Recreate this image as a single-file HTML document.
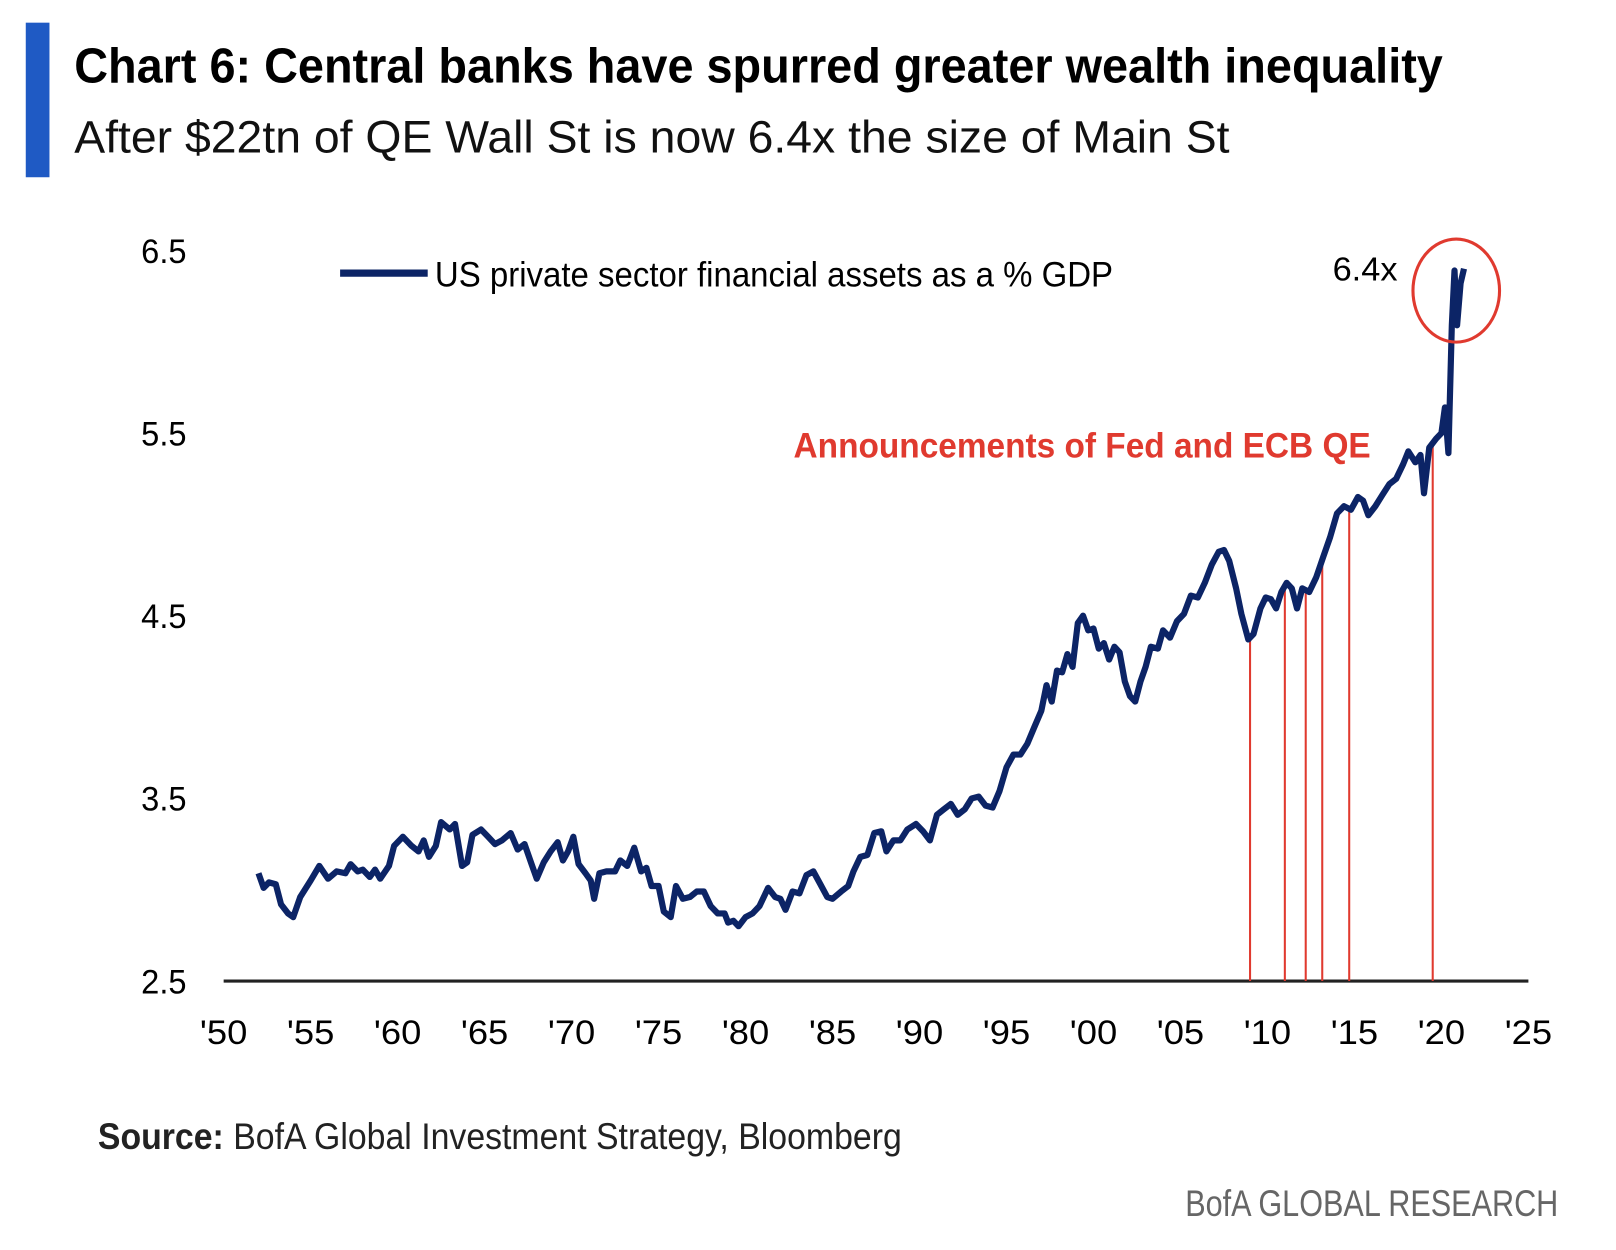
<!DOCTYPE html>
<html><head><meta charset="utf-8"><style>
html,body{margin:0;padding:0;background:#fff;}
svg{display:block;font-family:"Liberation Sans",sans-serif;}
</style></head><body>
<svg id="chart" width="1616" height="1250" viewBox="0 0 1568 1213" preserveAspectRatio="none">
<rect x="25" y="22" width="23" height="150" fill="#1f5ac4"/>
<text x="72" y="80" font-size="48" font-weight="bold" textLength="1328" lengthAdjust="spacingAndGlyphs">Chart 6: Central banks have spurred greater wealth inequality</text>
<text x="72" y="148" font-size="44" textLength="1121" lengthAdjust="spacingAndGlyphs" fill="#111">After $22tn of QE Wall St is now 6.4x the size of Main St</text>
<g id="axes"></g>
<g id="qe"></g>
<path id="line" fill="none" stroke="#0c2466" stroke-width="6" stroke-linejoin="round"/>
<line x1="330" y1="265" x2="415" y2="265" stroke="#0c2466" stroke-width="7"/>
<text x="422" y="278" font-size="34" textLength="658" lengthAdjust="spacingAndGlyphs">US private sector financial assets as a % GDP</text>
<text x="1293" y="272" font-size="32" textLength="63" lengthAdjust="spacingAndGlyphs">6.4x</text>
<ellipse cx="1413" cy="282" rx="42" ry="50" fill="none" stroke="#e03a2f" stroke-width="3"/>
<text x="770" y="444" font-size="34" font-weight="bold" fill="#e03a2f" textLength="560" lengthAdjust="spacingAndGlyphs">Announcements of Fed and ECB QE</text>
<text x="95" y="1115" font-size="36" textLength="780" lengthAdjust="spacingAndGlyphs" fill="#222"><tspan font-weight="bold">Source:</tspan> BofA Global Investment Strategy, Bloomberg</text>
<text x="1512" y="1180" font-size="36" text-anchor="end" fill="#666" textLength="362" lengthAdjust="spacingAndGlyphs">BofA GLOBAL RESEARCH</text>
</svg>
<script>
const years=[1952.0,1952.3,1952.6,1953.0,1953.3,1953.7,1954.0,1954.4,1955.0,1955.5,1956.0,1956.5,1957.0,1957.3,1957.7,1958.0,1958.4,1958.7,1959.0,1959.5,1959.8,1960.3,1960.8,1961.2,1961.5,1961.8,1962.2,1962.5,1963.0,1963.3,1963.7,1964.0,1964.3,1964.8,1965.2,1965.6,1966.0,1966.5,1966.9,1967.3,1967.7,1968.0,1968.4,1968.8,1969.2,1969.5,1969.8,1970.1,1970.4,1970.8,1971.1,1971.3,1971.6,1972.0,1972.5,1972.8,1973.2,1973.6,1974.0,1974.3,1974.6,1975.0,1975.3,1975.7,1976.0,1976.4,1976.8,1977.2,1977.6,1978.0,1978.4,1978.8,1979.0,1979.3,1979.6,1980.0,1980.4,1980.8,1981.3,1981.7,1982.0,1982.3,1982.7,1983.1,1983.5,1983.9,1984.3,1984.7,1985.0,1985.5,1985.9,1986.2,1986.6,1987.0,1987.4,1987.8,1988.1,1988.5,1988.9,1989.3,1989.8,1990.2,1990.6,1991.0,1991.4,1991.8,1992.2,1992.6,1993.0,1993.4,1993.8,1994.2,1994.6,1995.0,1995.4,1995.8,1996.2,1996.6,1997.0,1997.3,1997.6,1997.9,1998.2,1998.5,1998.8,1999.1,1999.4,1999.7,2000.0,2000.3,2000.6,2000.9,2001.2,2001.5,2001.8,2002.1,2002.4,2002.7,2003.0,2003.3,2003.7,2004.0,2004.4,2004.8,2005.2,2005.6,2006.0,2006.4,2006.8,2007.2,2007.5,2007.8,2008.2,2008.5,2008.9,2009.2,2009.6,2009.9,2010.2,2010.5,2010.8,2011.1,2011.4,2011.7,2012.0,2012.4,2012.8,2013.2,2013.6,2014.0,2014.4,2014.8,2015.2,2015.5,2015.8,2016.2,2016.6,2017.0,2017.4,2017.8,2018.1,2018.5,2018.8,2019.0,2019.3,2019.7,2020.0,2020.2,2020.4,2020.6,2020.75,2020.9,2021.1,2021.3];
const values=[3.09,3.01,3.04,3.03,2.92,2.87,2.85,2.96,3.05,3.13,3.06,3.10,3.09,3.14,3.10,3.11,3.07,3.11,3.06,3.13,3.24,3.29,3.24,3.21,3.27,3.18,3.24,3.37,3.33,3.36,3.13,3.15,3.30,3.33,3.29,3.25,3.27,3.31,3.22,3.25,3.14,3.06,3.15,3.21,3.26,3.16,3.21,3.29,3.14,3.09,3.05,2.95,3.09,3.10,3.10,3.16,3.13,3.23,3.10,3.12,3.02,3.02,2.88,2.85,3.02,2.95,2.96,2.99,2.99,2.91,2.87,2.87,2.82,2.83,2.80,2.85,2.87,2.91,3.01,2.96,2.95,2.89,2.99,2.98,3.08,3.10,3.03,2.96,2.95,2.99,3.02,3.10,3.18,3.19,3.31,3.32,3.21,3.27,3.27,3.33,3.36,3.32,3.27,3.41,3.44,3.47,3.41,3.44,3.50,3.51,3.46,3.45,3.54,3.67,3.74,3.74,3.80,3.89,3.98,4.12,4.03,4.20,4.19,4.29,4.22,4.46,4.50,4.42,4.43,4.32,4.35,4.26,4.33,4.30,4.14,4.06,4.03,4.14,4.22,4.33,4.32,4.42,4.38,4.47,4.51,4.61,4.60,4.68,4.78,4.85,4.86,4.80,4.65,4.51,4.37,4.40,4.54,4.60,4.59,4.54,4.63,4.68,4.65,4.54,4.65,4.63,4.71,4.82,4.93,5.06,5.10,5.08,5.15,5.13,5.05,5.10,5.16,5.22,5.25,5.33,5.40,5.34,5.38,5.17,5.42,5.47,5.50,5.64,5.39,6.09,6.39,6.09,6.32,6.40];
const qeDates=[2009.0,2011.0,2012.2,2013.15,2014.7,2019.5];
const yTicks=[2.5,3.5,4.5,5.5,6.5];
const xTicks=[1950,1955,1960,1965,1970,1975,1980,1985,1990,1995,2000,2005,2010,2015,2020,2025];
const yTickLabels=["2.5","3.5","4.5","5.5","6.5"];
const xTickLabels=["'50","'55","'60","'65","'70","'75","'80","'85","'90","'95","'00","'05","'10","'15","'20","'25"];

const X0=217,X1=1483,Y0=952,Y1=243;
const xs=t=>X0+(t-1950)/75*(X1-X0);
const ys=v=>Y0-(v-2.5)/4*(Y0-Y1);
const NS="http://www.w3.org/2000/svg";
function mk(tag,attrs,parent){const e=document.createElementNS(NS,tag);for(const k in attrs)e.setAttribute(k,attrs[k]);parent.appendChild(e);return e;}
const axes=document.getElementById('axes');
let ax=mk('line',{x1:X0,x2:X1,y1:Y0,y2:Y0,stroke:'#222','stroke-width':3},axes);


yTicks.forEach((v,i)=>{
  const t=mk('text',{x:137,y:ys(v)+12,'font-size':33,textLength:44,lengthAdjust:'spacingAndGlyphs'},axes);
  t.textContent=yTickLabels[i];
  
  
});
xTicks.forEach((v,i)=>{
  const t=mk('text',{x:xs(v),y:1013,'font-size':33,'text-anchor':'middle',textLength:46,lengthAdjust:'spacingAndGlyphs'},axes);
  t.textContent=xTickLabels[i];
  
  
});
function interp(t){for(let i=1;i<years.length;i++){if(years[i]>=t){const f=(t-years[i-1])/(years[i]-years[i-1]);return values[i-1]+f*(values[i]-values[i-1]);}}return values[values.length-1];}
const qe=document.getElementById('qe');
qeDates.forEach(d=>{
  const l=mk('line',{x1:xs(d),x2:xs(d),y1:ys(interp(d)),y2:Y0,stroke:'#e03a2f','stroke-width':2},qe);
  
  
});
document.getElementById('line').setAttribute('d',years.map((t,i)=>(i?'L':'M')+xs(t).toFixed(1)+' '+ys(values[i]).toFixed(1)).join(' '));
</script>
</body></html>
